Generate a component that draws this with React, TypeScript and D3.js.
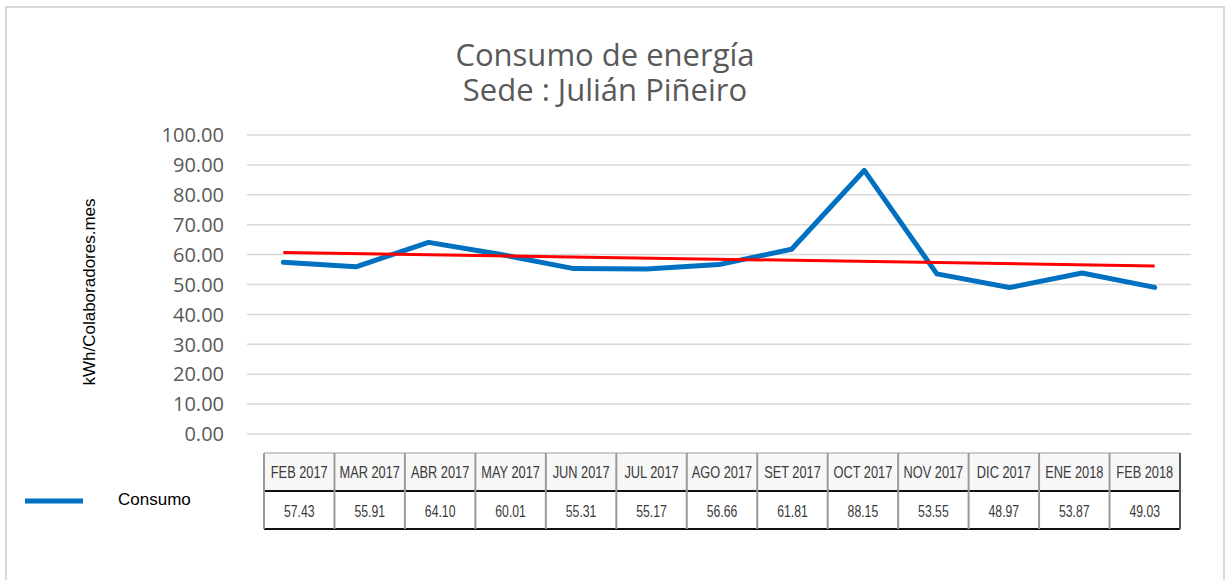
import React from 'react';
import * as d3 from 'd3';

const months = ['FEB 2017', 'MAR 2017', 'ABR 2017', 'MAY 2017', 'JUN 2017', 'JUL 2017', 'AGO 2017', 'SET 2017', 'OCT 2017', 'NOV 2017', 'DIC 2017', 'ENE 2018', 'FEB 2018'];
const consumo = [57.43, 55.91, 64.10, 60.01, 55.31, 55.17, 56.66, 61.81, 88.15, 53.55, 48.97, 53.87, 49.03];
const yTicks = [0, 10, 20, 30, 40, 50, 60, 70, 80, 90, 100];

const W = 1229;
const H = 580;

export default function App() {
  const x = d3.scaleBand<string>().domain(months).range([247, 1191]);
  const y = d3.scaleLinear().domain([0, 100]).range([434, 135]);
  const cx = (m: string) => (x(m) as number) + x.bandwidth() / 2;

  const line = d3.line<number>()
    .x((_, i) => cx(months[i]))
    .y(d => y(d));

  // linear trend (least squares), like Excel's trendline
  const idx = consumo.map((_, i) => i);
  const mx = d3.mean(idx) as number;
  const my = d3.mean(consumo) as number;
  const slope = d3.sum(idx, i => (i - mx) * (consumo[i] - my)) / d3.sum(idx, i => (i - mx) ** 2);
  const trend = (i: number) => my + slope * (i - mx);
  const last = months.length - 1;

  // pasted data table under the plot
  const tx = d3.scaleBand<string>().domain(months).range([264, 1180]);
  const top = 453, mid = 491, bot = 529;
  const tcx = (m: string) => (tx(m) as number) + tx.bandwidth() / 2;

  return (
    <svg width={W} height={H} style={{ position: 'absolute', left: 0, top: 0 }}>
      <rect x={0} y={0} width={W} height={H} fill="#fff" />
      <rect x={6} y={7} width={1218} height={600} fill="none" stroke="#d9d9d9" strokeWidth={2} />

      <g fontFamily="'Open Sans', sans-serif" fill="#595959" textAnchor="middle" fontSize={31}>
        <text x={605} y={66}>Consumo de energía</text>
        <text x={605} y={101}>Sede : Julián Piñeiro</text>
      </g>

      {yTicks.map(t => (
        <g key={t}>
          <line x1={247} x2={1191} y1={y(t)} y2={y(t)} stroke="#d9d9d9" strokeWidth={1.5} />
          <text x={224} y={y(t)} dy="0.36em" textAnchor="end" fontFamily="'Open Sans', sans-serif" fontSize={20} fill="#595959">
            {t.toFixed(2)}
          </text>
        </g>
      ))}

      <text transform="translate(95,292) rotate(-90)" textAnchor="middle" fontFamily="'Liberation Sans', Arial, sans-serif" fontSize={17} fill="#000">
        kWh/Colaboradores.mes
      </text>

      <path d={line(consumo) || ''} fill="none" stroke="#0070c0" strokeWidth={5} strokeLinejoin="round" strokeLinecap="round" />
      <line x1={cx(months[0])} x2={cx(months[last])} y1={y(trend(0))} y2={y(trend(last))} stroke="#ff0000" strokeWidth={3} />

      <line x1={25} x2={83} y1={501} y2={501} stroke="#0070c0" strokeWidth={5} />
      <text x={118} y={505} fontFamily="'Liberation Sans', Arial, sans-serif" fontSize={17} fill="#000">Consumo</text>

      <g>
        <rect x={264} y={top} width={916} height={mid - top} fill="#f7f7f7" />
        <rect x={264} y={mid} width={916} height={bot - mid} fill="#fff" />
        <line x1={264} x2={1180} y1={top} y2={top} stroke="#bdbdbd" strokeWidth={1.5} />
        <line x1={264} x2={1180} y1={mid} y2={mid} stroke="#111" strokeWidth={2} />
        <line x1={264} x2={1180} y1={bot} y2={bot} stroke="#111" strokeWidth={2} />
        {months.map(m => (
          <line key={'v' + m} x1={tx(m)} x2={tx(m)} y1={top} y2={bot} stroke="#9a9a9a" strokeWidth={2} />
        ))}
        <line x1={1180} x2={1180} y1={top} y2={bot} stroke="#555" strokeWidth={2} />
        {months.map((m, i) => (
          <g key={m} fontFamily="'Liberation Sans', Arial, sans-serif" fill="#3a3a3a" textAnchor="middle">
            <text transform={`translate(${tcx(m)},478) scale(0.8,1)`} fontSize={16}>{m}</text>
            <text transform={`translate(${tcx(m)},517) scale(0.72,1)`} fontSize={17}>{consumo[i].toFixed(2)}</text>
          </g>
        ))}
      </g>
    </svg>
  );
}
